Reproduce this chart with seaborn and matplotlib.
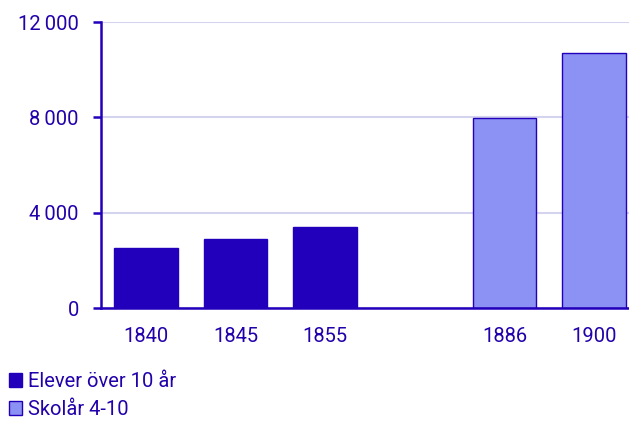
import pandas as pd
import matplotlib.pyplot as plt
import seaborn as sns

# data
years = ["1840", "1845", "1855", "1886", "1900"]
values = [2530, 2880, 3380, 7990, 10700]
series = ["Elever över 10 år", "Elever över 10 år", "Elever över 10 år", "Skolår 4-10", "Skolår 4-10"]
order = ["1840", "1845", "1855", "", "1886", "1900"]
yticks = [0, 4000, 8000, 12000]

DARK = "#2200BB"
LIGHT = "#8C91F4"
TEXT = "#2200AA"
GRID = "#D4D4F0"

sns.set_style("white")
plt.rcParams["font.family"] = ["Roboto", "DejaVu Sans"]

df = pd.DataFrame({"year": years, "value": values, "serie": series})

fig = plt.figure(figsize=(6.29, 4.21), dpi=100)
ax = fig.add_axes([0.1606, 0.2684, 0.8394, 0.6793])

sns.barplot(
    data=df, x="year", y="value", hue="serie", order=order,
    hue_order=["Elever över 10 år", "Skolår 4-10"],
    palette=[DARK, LIGHT], dodge=False, width=0.71, saturation=1,
    edgecolor=DARK, linewidth=1, ax=ax,
)

ax.set_ylim(0, 12000)
ax.set_xlim(-0.5, 5.39)
ax.set_yticks(yticks)
ax.set_yticklabels([f"{v:,}".replace(",", "\u2009") for v in yticks])
ax.yaxis.grid(True, color=GRID, linewidth=1.5)
ax.set_axisbelow(True)
ax.set_xlabel("")
ax.set_ylabel("")

for side in ["top", "right"]:
    ax.spines[side].set_visible(False)
for side in ["left", "bottom"]:
    ax.spines[side].set_color(DARK)
    ax.spines[side].set_linewidth(1.8)

ax.tick_params(axis="y", colors=DARK, labelcolor=TEXT, labelsize=14.5,
               length=6, width=1.8, direction="out", left=True, pad=10)
ax.tick_params(axis="x", labelcolor=TEXT, labelsize=14.5, bottom=False, pad=10)

handles, labels = ax.get_legend_handles_labels()
ax.legend(handles, labels, loc="upper left", bbox_to_anchor=(0.008, 0.126),
          bbox_transform=fig.transFigure, frameon=False, fontsize=14.5,
          handlelength=0.65, handleheight=0.65, handletextpad=0.3,
          labelspacing=0.45, borderaxespad=0, borderpad=0.2,
          labelcolor=TEXT)

fig.savefig("out.png", dpi=100)
